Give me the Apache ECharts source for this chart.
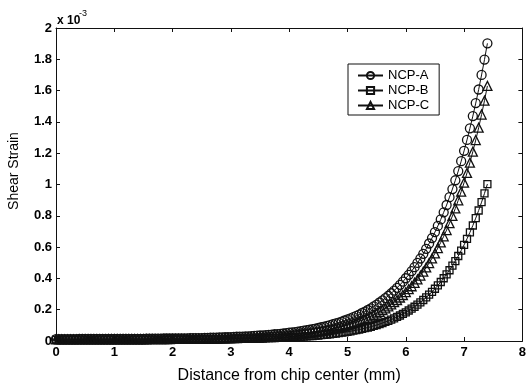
<!DOCTYPE html>
<html>
<head>
<meta charset="utf-8">
<title>Shear Strain</title>
<script src="https://cdn.jsdelivr.net/npm/echarts@6/dist/echarts.min.js"></script>
<style>
  html, body { margin: 0; padding: 0; background: #fff; }
  #chart { width: 529px; height: 389px; }
</style>
</head>
<body>
<div id="chart"></div>
<script>
// distance from chip center (mm), listed from the chip edge inwards
var distanceMm = [
  7.4,7.35,7.3,7.25,7.2,7.15,7.1,7.05,7,6.95,
  6.9,6.85,6.8,6.75,6.7,6.65,6.6,6.55,6.5,6.45,
  6.4,6.35,6.3,6.25,6.2,6.15,6.1,6.05,6,5.95,
  5.9,5.85,5.8,5.75,5.7,5.65,5.6,5.55,5.5,5.45,
  5.4,5.35,5.3,5.25,5.2,5.15,5.1,5.05,5,4.95,
  4.9,4.85,4.8,4.75,4.7,4.65,4.6,4.55,4.5,4.45,
  4.4,4.35,4.3,4.25,4.2,4.15,4.1,4.05,4,3.95,
  3.9,3.85,3.8,3.75,3.7,3.65,3.6,3.55,3.5,3.45,
  3.4,3.35,3.3,3.25,3.2,3.15,3.1,3.05,3,2.95,
  2.9,2.85,2.8,2.75,2.7,2.65,2.6,2.55,2.5,2.45,
  2.4,2.35,2.3,2.25,2.2,2.15,2.1,2.05,2,1.95,
  1.9,1.85,1.8,1.75,1.7,1.65,1.6,1.55,1.5,1.45,
  1.4,1.35,1.3,1.25,1.2,1.15,1.1,1.05,1,0.95,
  0.9,0.85,0.8,0.75,0.7,0.65,0.6,0.55,0.5,0.45,
  0.4,0.35,0.3,0.25,0.2,0.15,0.1,0.05,0
];

// shear strain (x 1e-3), same order as distanceMm
var strainA = [
  1.902,1.798,1.700,1.607,1.520,1.437,1.359,1.285,1.215,1.149,
  1.086,1.027,0.971,0.919,0.869,0.822,0.777,0.735,0.696,0.658,
  0.623,0.589,0.557,0.527,0.499,0.472,0.447,0.423,0.401,0.379,
  0.359,0.340,0.322,0.305,0.289,0.274,0.259,0.246,0.233,0.221,
  0.209,0.198,0.188,0.179,0.169,0.161,0.153,0.145,0.138,0.131,
  0.124,0.118,0.112,0.107,0.101,0.097,0.092,0.088,0.083,0.079,
  0.076,0.072,0.069,0.066,0.063,0.060,0.057,0.055,0.053,0.050,
  0.048,0.046,0.044,0.043,0.041,0.039,0.038,0.036,0.035,0.034,
  0.033,0.031,0.030,0.029,0.028,0.028,0.027,0.026,0.025,0.024,
  0.024,0.023,0.023,0.022,0.021,0.021,0.020,0.020,0.019,0.019,
  0.019,0.018,0.018,0.017,0.017,0.017,0.017,0.016,0.016,0.016,
  0.016,0.016,0.015,0.015,0.015,0.015,0.015,0.015,0.014,0.014,
  0.014,0.014,0.014,0.014,0.014,0.014,0.014,0.013,0.013,0.013,
  0.013,0.013,0.013,0.013,0.013,0.013,0.013,0.013,0.013,0.013,
  0.013,0.012,0.012,0.012,0.012,0.012,0.012,0.012,0.012
];

var strainB = [
  1.003,0.943,0.887,0.834,0.785,0.738,0.694,0.653,0.614,0.578,
  0.543,0.511,0.481,0.452,0.426,0.401,0.377,0.355,0.334,0.314,
  0.296,0.279,0.262,0.247,0.233,0.219,0.207,0.195,0.183,0.173,
  0.163,0.154,0.145,0.137,0.129,0.122,0.115,0.108,0.102,0.097,
  0.091,0.086,0.082,0.077,0.073,0.069,0.066,0.062,0.059,0.056,
  0.053,0.050,0.048,0.045,0.043,0.041,0.039,0.037,0.035,0.034,
  0.032,0.031,0.029,0.028,0.027,0.026,0.025,0.024,0.023,0.022,
  0.021,0.020,0.020,0.019,0.018,0.018,0.017,0.016,0.016,0.015,
  0.015,0.015,0.014,0.014,0.013,0.013,0.013,0.013,0.012,0.012,
  0.012,0.012,0.011,0.011,0.011,0.011,0.011,0.010,0.010,0.010,
  0.010,0.010,0.010,0.010,0.009,0.009,0.009,0.009,0.009,0.009,
  0.009,0.009,0.009,0.009,0.009,0.009,0.009,0.009,0.009,0.009,
  0.009,0.009,0.009,0.009,0.009,0.009,0.008,0.008,0.008,0.008,
  0.008,0.008,0.008,0.008,0.008,0.008,0.008,0.008,0.008,0.008,
  0.008,0.008,0.008,0.008,0.008,0.008,0.008,0.008,0.008
];

var strainC = [
  1.630,1.536,1.447,1.363,1.284,1.210,1.140,1.074,1.012,0.954,
  0.899,0.847,0.799,0.753,0.709,0.669,0.630,0.594,0.560,0.528,
  0.498,0.470,0.443,0.418,0.394,0.372,0.350,0.331,0.312,0.294,
  0.278,0.262,0.248,0.234,0.221,0.208,0.197,0.186,0.176,0.166,
  0.157,0.148,0.140,0.133,0.126,0.119,0.113,0.107,0.101,0.096,
  0.091,0.086,0.082,0.077,0.074,0.070,0.066,0.063,0.060,0.057,
  0.054,0.052,0.049,0.047,0.045,0.043,0.041,0.039,0.037,0.036,
  0.034,0.033,0.032,0.030,0.029,0.028,0.027,0.026,0.025,0.024,
  0.023,0.023,0.022,0.021,0.021,0.020,0.019,0.019,0.018,0.018,
  0.017,0.017,0.017,0.016,0.016,0.015,0.015,0.015,0.015,0.014,
  0.014,0.014,0.014,0.013,0.013,0.013,0.013,0.013,0.013,0.012,
  0.012,0.012,0.012,0.012,0.012,0.012,0.012,0.011,0.011,0.011,
  0.011,0.011,0.011,0.011,0.011,0.011,0.011,0.011,0.011,0.011,
  0.011,0.010,0.010,0.010,0.010,0.010,0.010,0.010,0.010,0.010,
  0.010,0.010,0.010,0.010,0.010,0.010,0.010,0.010,0.010
];

var seriesNames = ['NCP-A', 'NCP-B', 'NCP-C'];
var xTicks = { min: 0, max: 8, interval: 1 };
var yTicks = { min: 0, max: 2, interval: 0.2 };

var FONT = "'Liberation Sans', Arial, Helvetica, sans-serif";
var INK = '#111';

function pairs(ys) {
  return distanceMm.map(function(x, i) { return [x, ys[i]]; });
}

function strainSeries(name, ys, symbol, size) {
  return {
    name: name,
    type: 'line',
    data: pairs(ys),
    symbol: symbol,
    symbolSize: size,
    showAllSymbol: true,
    lineStyle: { color: INK, width: 1 },
    itemStyle: { color: 'rgba(0,0,0,0)', borderColor: INK, borderWidth: 1.3 },
    emphasis: { disabled: true },
    z: 3
  };
}

// box frame axes (top / right) only carry inward ticks
function frameX(pos, labels) {
  return {
    type: 'value', position: pos,
    min: xTicks.min, max: xTicks.max, interval: xTicks.interval,
    axisLine: { show: true, onZero: false, lineStyle: { color: INK, width: 1 } },
    axisTick: { show: true, inside: true, length: 4, lineStyle: { color: INK } },
    splitLine: { show: false },
    axisLabel: { show: labels, color: '#000', fontFamily: FONT, fontSize: 13, fontWeight: 'bold', margin: 5 }
  };
}

function frameY(pos, labels) {
  return {
    type: 'value', position: pos,
    min: yTicks.min, max: yTicks.max, interval: yTicks.interval,
    axisLine: { show: true, onZero: false, lineStyle: { color: INK, width: 1 } },
    axisTick: { show: true, inside: true, length: 4, lineStyle: { color: INK } },
    splitLine: { show: false },
    axisLabel: {
      show: labels, color: '#000', fontFamily: FONT, fontSize: 13, fontWeight: 'bold', margin: 4,
      formatter: function(v) { return String(Number(v.toFixed(1))); }
    }
  };
}

var chart = echarts.init(document.getElementById('chart'), null, { renderer: 'canvas' });

var xMain = frameX('bottom', true);
xMain.name = 'Distance from chip center (mm)';
xMain.nameLocation = 'middle';
xMain.nameGap = 27;
xMain.nameTextStyle = { color: '#000', fontFamily: FONT, fontSize: 16 };

chart.setOption({
  animation: false,
  backgroundColor: '#fff',
  grid: { left: 56, right: 6, top: 28, bottom: 48 },
  xAxis: [xMain, frameX('top', false)],
  yAxis: [frameY('left', true), frameY('right', false)],
  legend: {
    data: seriesNames,
    orient: 'vertical',
    left: 348, top: 64,
    padding: [5, 10, 3, 9],
    itemGap: 2,
    itemWidth: 25, itemHeight: 9,
    backgroundColor: '#fff',
    borderColor: INK, borderWidth: 1,
    textStyle: { color: '#000', fontFamily: FONT, fontSize: 13 }
  },
  graphic: [
    {
      type: 'text', x: 14, y: 171, rotation: Math.PI / 2,
      style: { text: 'Shear Strain', fill: '#000', font: '14px ' + FONT, textAlign: 'center', textVerticalAlign: 'middle' }
    },
    {
      type: 'text', left: 57, top: 15,
      style: { text: 'x 10', fill: '#000', font: 'bold 12px ' + FONT }
    },
    {
      type: 'text', left: 79, top: 9,
      style: { text: '-3', fill: '#000', font: '9px ' + FONT }
    }
  ],
  series: [
    strainSeries(seriesNames[0], strainA, 'circle', 9),
    strainSeries(seriesNames[1], strainB, 'rect', 7),
    strainSeries(seriesNames[2], strainC, 'triangle', 9)
  ]
});
</script>
</body>
</html>
